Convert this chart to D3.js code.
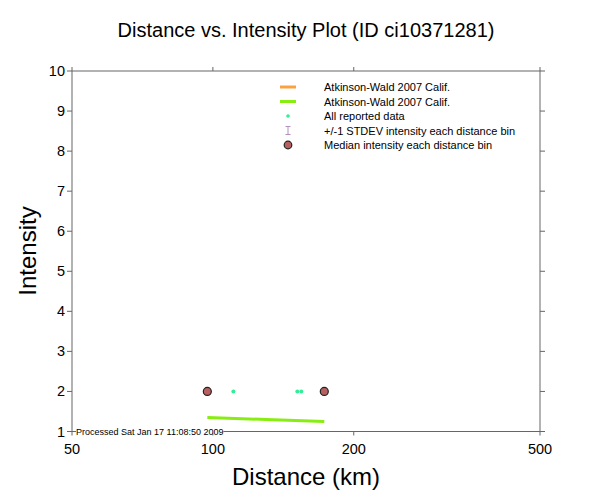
<!DOCTYPE html>
<html>
<head>
<meta charset="utf-8">
<script src="https://cdn.jsdelivr.net/npm/d3@7"></script>
<style>
  body { margin: 0; background: #fff; }
  svg { font-family: "Liberation Sans", Arial, sans-serif; }
</style>
</head>
<body>
<div id="chart"></div>
<script>
// Data
var xTicks = [50, 100, 200, 500];
var yTicks = [1, 2, 3, 4, 5, 6, 7, 8, 9, 10];
var reportedDist = [110.6, 151.5, 154.5];
var reportedInt = [2, 2, 2];
var medianDist = [97.3, 173.0];
var medianInt = [2, 2];
var awDist = [97.3, 130, 173.0];
var awInt = [1.35, 1.30, 1.25];
var legendLabels = ['Atkinson-Wald 2007 Calif.', 'Atkinson-Wald 2007 Calif.', 'All reported data',
    '+/-1 STDEV intensity each distance bin', 'Median intensity each distance bin'];

var width = 612, height = 504;
var margin = {top: 71, right: 72, bottom: 72, left: 72};
var axisColor = '#666';

var svg = d3.select('#chart').append('svg')
    .attr('width', width)
    .attr('height', height);

var x = d3.scaleLog().domain([50, 500]).range([margin.left, width - margin.right]);
var y = d3.scaleLinear().domain([1, 10]).range([height - margin.bottom - 0.5, margin.top]);

// Title
svg.append('text')
    .attr('x', 306).attr('y', 37)
    .attr('text-anchor', 'middle')
    .style('font-size', '20px')
    .text('Distance vs. Intensity Plot (ID ci10371281)');

// Frame
var x0 = x(50), x1 = x(500), y0 = y(1), y1 = y(10);
svg.append('rect')
    .attr('x', x0).attr('y', y1)
    .attr('width', x1 - x0).attr('height', y0 - y1)
    .attr('fill', 'none').attr('stroke', axisColor).attr('stroke-width', 1);

// Y ticks (outside, both sides)
var yt = svg.append('g');
yTicks.forEach(function(t) {
    yt.append('line').attr('x1', x0 - 5).attr('x2', x0).attr('y1', y(t)).attr('y2', y(t))
        .attr('stroke', axisColor);
    yt.append('line').attr('x1', x1).attr('x2', x1 + 5).attr('y1', y(t)).attr('y2', y(t))
        .attr('stroke', axisColor);
    yt.append('text')
        .attr('x', x0 - 7).attr('y', y(t) + 5)
        .attr('text-anchor', 'end')
        .style('font-size', '14.5px')
        .text(t);
});

// X ticks (outside top and bottom)
var xt = svg.append('g');
xTicks.forEach(function(t) {
    xt.append('line').attr('x1', x(t)).attr('x2', x(t)).attr('y1', y1 - 4).attr('y2', y1)
        .attr('stroke', axisColor);
    xt.append('line').attr('x1', x(t)).attr('x2', x(t)).attr('y1', y0).attr('y2', y0 + 4)
        .attr('stroke', axisColor);
    xt.append('text')
        .attr('x', x(t)).attr('y', y0 + 22)
        .attr('text-anchor', 'middle')
        .style('font-size', '14.5px')
        .text(t);
});

// Axis labels
svg.append('text')
    .attr('x', 306).attr('y', 485)
    .attr('text-anchor', 'middle')
    .style('font-size', '24px')
    .text('Distance (km)');
svg.append('text')
    .attr('transform', 'translate(36,251) rotate(-90)')
    .attr('text-anchor', 'middle')
    .style('font-size', '24px')
    .text('Intensity');

// Processed stamp with white box over axis
var stampBox = svg.append('rect').attr('fill', '#fff');
var stamp = svg.append('text')
    .attr('x', x0 + 4).attr('y', y0 + 3)
    .style('font-size', '9px')
    .text('Processed Sat Jan 17 11:08:50 2009');
var bb = stamp.node().getBBox();
stampBox.attr('x', bb.x).attr('y', y0 - 2)
    .attr('width', bb.width).attr('height', 4);

// Atkinson-Wald line
var line = d3.line()
    .x(function(d) { return x(d[0]); })
    .y(function(d) { return y(d[1]); });
svg.append('path')
    .datum(d3.zip(awDist, awInt))
    .attr('d', line)
    .attr('fill', 'none')
    .attr('stroke', '#88ee11')
    .attr('stroke-width', 3);

// Reported data
svg.selectAll('.rep')
    .data(d3.zip(reportedDist, reportedInt))
    .enter().append('circle')
    .attr('class', 'rep')
    .attr('cx', function(d) { return x(d[0]); })
    .attr('cy', function(d) { return y(d[1]); })
    .attr('r', 2)
    .attr('fill', '#33ee99');

// Medians
svg.selectAll('.med')
    .data(d3.zip(medianDist, medianInt))
    .enter().append('circle')
    .attr('class', 'med')
    .attr('cx', function(d) { return x(d[0]); })
    .attr('cy', function(d) { return y(d[1]); })
    .attr('r', 4)
    .attr('fill', '#b86060')
    .attr('stroke', '#222')
    .attr('stroke-width', 1.2);

// Legend
var lg = svg.append('g');
var rowY = [87, 101.5, 116, 130.5, 145];
var lx = 288, tx = 324;
lg.append('line').attr('x1', lx - 8).attr('x2', lx + 8).attr('y1', rowY[0]).attr('y2', rowY[0])
    .attr('stroke', '#ffa040').attr('stroke-width', 3);
lg.append('line').attr('x1', lx - 8).attr('x2', lx + 8).attr('y1', rowY[1]).attr('y2', rowY[1])
    .attr('stroke', '#88ee11').attr('stroke-width', 3);
lg.append('circle').attr('cx', lx).attr('cy', rowY[2]).attr('r', 1.8).attr('fill', '#33ee99');
var eb = lg.append('g').attr('stroke', '#b090c0').attr('stroke-width', 1);
eb.append('line').attr('x1', lx).attr('x2', lx).attr('y1', rowY[3] - 4).attr('y2', rowY[3] + 4);
eb.append('line').attr('x1', lx - 2.5).attr('x2', lx + 2.5).attr('y1', rowY[3] - 4).attr('y2', rowY[3] - 4);
eb.append('line').attr('x1', lx - 2.5).attr('x2', lx + 2.5).attr('y1', rowY[3] + 4).attr('y2', rowY[3] + 4);
lg.append('circle').attr('cx', lx).attr('cy', rowY[4]).attr('r', 3.8)
    .attr('fill', '#b86060').attr('stroke', '#222').attr('stroke-width', 1.2);
legendLabels.forEach(function(l, i) {
    lg.append('text')
        .attr('x', tx).attr('y', rowY[i] + 4)
        .style('font-size', '11px')
        .text(l);
});
</script>
</body>
</html>
